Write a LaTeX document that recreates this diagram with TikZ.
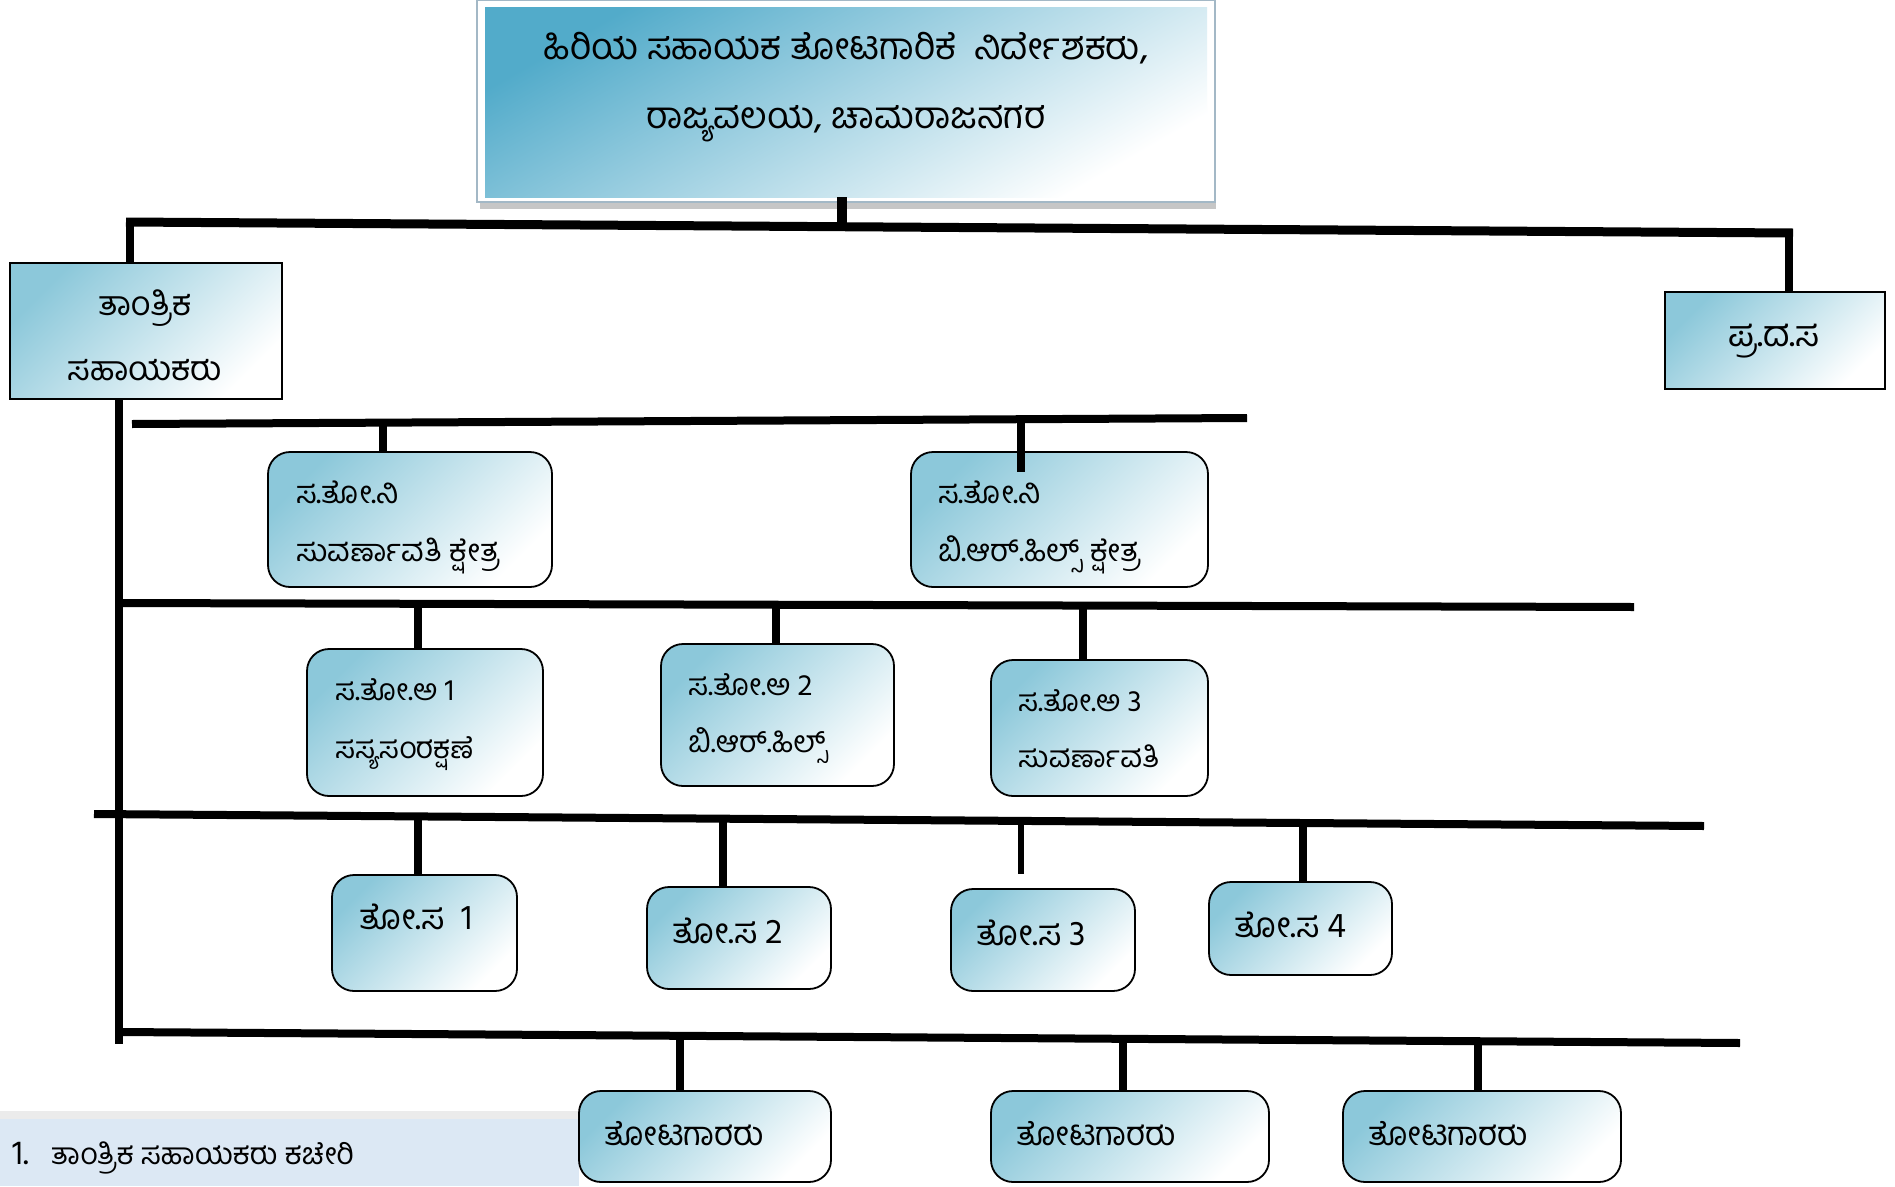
\documentclass[tikz,border=0pt]{standalone}
\usepackage{fontspec}
\newfontfamily\kn[Script=Kannada]{Hind Mysuru}
\definecolor{boxc}{HTML}{8CC8DA}
\definecolor{topc}{HTML}{52ABCA}
\definecolor{frame}{HTML}{A3B8C6}
\definecolor{stripc}{HTML}{DCE8F4}
\definecolor{bandc}{HTML}{EBEBEB}
\newcommand{\ksize}[1]{\kn\fontsize{#1}{#1}\selectfont}
\begin{document}
\begin{tikzpicture}[x=1pt,y=-1pt,
  bus/.style={line width=8pt},
  sqbox/.style={draw=black, line width=1.8pt, top color=boxc, bottom color=white, shading angle=45, inner sep=0pt},
  rbox/.style={sqbox, rounded corners=22pt},
  kt/.style={inner sep=0pt, anchor=base west},
  kc/.style={inner sep=0pt, anchor=base}
]
\clip (0,0) rectangle (1895,1186);
\fill[white] (0,0) rectangle (1895,1186);

% bottom-left strip
\fill[bandc] (0,1111) rectangle (579,1120);
\fill[stripc] (0,1119) rectangle (579,1186);
\node[kt, font=\ksize{30}] (note) at (12,1164) {{\fontsize{34}{34}\selectfont 1.}\hspace{22pt}ತಾಂತ್ರಿಕ ಸಹಾಯಕರು ಕಚೇರಿ};

% top box
\fill[gray!45] (480,200) rectangle (1216,209);
\node[draw=frame, line width=2pt, fill=white, minimum width=738, minimum height=202, inner sep=0pt] (topframe) at (846,101) {};
\node[minimum width=722, minimum height=190, inner sep=0pt, top color=topc, bottom color=white, shading angle=30] (top) at (846,102) {};
\node[kc, font=\ksize{37}] (topt1) at (846,59) {ಹಿರಿಯ ಸಹಾಯಕ ತೋಟಗಾರಿಕೆ\ \ ನಿರ್ದೇಶಕರು,};
\node[kc, font=\ksize{37}] (topt2) at (846,128) {ರಾಜ್ಯವಲಯ, ಚಾಮರಾಜನಗರ};

% level 1
\node[sqbox, minimum width=272, minimum height=136] (tech) at (146,331) {};
\node[kc, font=\ksize{34}] (techt1) at (145,315) {ತಾಂತ್ರಿಕ};
\node[kc, font=\ksize{34}] (techt2) at (145,380) {ಸಹಾಯಕರು};
\node[sqbox, minimum width=220, minimum height=97] (pds) at (1775,340.5) {};
\node[kc, font=\ksize{36}] (pdst) at (1774,346) {ಪ್ರ.ದ.ಸ};

% level 2
\node[rbox, minimum width=284, minimum height=135] (sub1) at (410,519.5) {};
\node[kt, font=\ksize{31}] (sub1t1) at (296,503) {ಸ.ತೋ.ನಿ};
\node[kt, font=\ksize{31}] (sub1t2) at (296,561) {ಸುವರ್ಣಾವತಿ ಕ್ಷೇತ್ರ};
\node[rbox, minimum width=297, minimum height=135] (sub2) at (1059.5,519.5) {};
\node[kt, font=\ksize{31}] (sub2t1) at (938,503) {ಸ.ತೋ.ನಿ};
\node[kt, font=\ksize{31}] (sub2t2) at (938,561) {ಬಿ.ಆರ್.ಹಿಲ್ಸ್ ಕ್ಷೇತ್ರ};

% level 3
\node[rbox, minimum width=236, minimum height=147] (a1) at (425,722.5) {};
\node[kt, font=\ksize{30}] (a1t1) at (335,700) {ಸ.ತೋ.ಅ 1};
\node[kt, font=\ksize{30}] (a1t2) at (335,758) {ಸಸ್ಯಸಂರಕ್ಷಣೆ};
\node[rbox, minimum width=233, minimum height=142] (a2) at (777.5,715) {};
\node[kt, font=\ksize{30}] (a2t1) at (688,695) {ಸ.ತೋ.ಅ 2};
\node[kt, font=\ksize{30}] (a2t2) at (688,752) {ಬಿ.ಆರ್.ಹಿಲ್ಸ್};
\node[rbox, minimum width=217, minimum height=136] (a3) at (1099.5,728) {};
\node[kt, font=\ksize{30}] (a3t1) at (1018,711) {ಸ.ತೋ.ಅ 3};
\node[kt, font=\ksize{30}] (a3t2) at (1018,767) {ಸುವರ್ಣಾವತಿ};

% level 4
\node[rbox, minimum width=185, minimum height=116] (t1) at (424.5,933) {};
\node[kt, font=\ksize{35}] (t1t) at (359,929) {ತೋ.ಸ\ \ 1};
\node[rbox, minimum width=184, minimum height=102] (t2) at (739,938) {};
\node[kt, font=\ksize{35}] (t2t) at (672,943) {ತೋ.ಸ 2};
\node[rbox, minimum width=184, minimum height=102] (t3) at (1043,940) {};
\node[kt, font=\ksize{35}] (t3t) at (976,945) {ತೋ.ಸ 3};
\node[rbox, minimum width=183, minimum height=93] (t4) at (1300.5,928.5) {};
\node[kt, font=\ksize{35}] (t4t) at (1234,937) {ತೋ.ಸ 4};

% level 5
\node[rbox, minimum width=252, minimum height=91] (g1) at (705,1136.5) {};
\node[kt, font=\ksize{33}] (g1t) at (604,1145) {ತೋಟಗಾರರು};
\node[rbox, minimum width=278, minimum height=91] (g2) at (1130,1136.5) {};
\node[kt, font=\ksize{33}] (g2t) at (1016,1145) {ತೋಟಗಾರರು};
\node[rbox, minimum width=278, minimum height=91] (g3) at (1482,1136.5) {};
\node[kt, font=\ksize{33}] (g3t) at (1368,1145) {ತೋಟಗಾರರು};

% buses
\coordinate (b1a) at (126,222); \coordinate (b1b) at (1793,233);
\coordinate (b2a) at (132,424); \coordinate (b2b) at (1247,418);
\coordinate (b3a) at (119,603); \coordinate (b3b) at (1634,607);
\coordinate (b4a) at (94,814);  \coordinate (b4b) at (1704,826);
\coordinate (b5a) at (119,1032); \coordinate (b5b) at (1740,1043);
\draw[line width=9pt] (b1a) -- (b1b);
\draw[bus] (b2a) -- (b2b);
\draw[bus] (b3a) -- (b3b);
\draw[bus] (b4a) -- (b4b);
\draw[bus] (b5a) -- (b5b);

% stubs, level 0/1
\coordinate (s0) at (842,230);
\draw[line width=10pt] (s0 |- top.south) -- (s0);
\coordinate (s11) at (130,220);
\draw[bus] (s11) -- (s11 |- tech.north);
\coordinate (s12) at (1789,229);
\draw[bus] (s12) -- (s12 |- pds.north);
% left spine
\coordinate (sp) at (119,1044);
\draw[bus] (sp |- tech.south) -- (sp);
% level 2 stubs
\coordinate (s21) at (383,422);
\draw[bus] (s21) -- (s21 |- sub1.north);
\coordinate (s22) at (1021,419);
\coordinate (s22e) at (1021,472);
\draw[bus] (s22) -- (s22e);
% level 3 stubs
\coordinate (s31) at (418,605);
\draw[bus] (s31) -- (s31 |- a1.north);
\coordinate (s32) at (776,605);
\draw[bus] (s32) -- (s32 |- a2.north);
\coordinate (s33) at (1083,606);
\draw[bus] (s33) -- (s33 |- a3.north);
% level 4 stubs
\coordinate (s41) at (418,818);
\draw[bus] (s41) -- (s41 |- t1.north);
\coordinate (s42) at (723,820);
\draw[bus] (s42) -- (s42 |- t2.north);
\coordinate (s43) at (1021,822);
\coordinate (s43e) at (1021,874);
\draw[line width=6pt] (s43) -- (s43e);
\coordinate (s44) at (1303,823);
\draw[bus] (s44) -- (s44 |- t4.north);
% level 5 stubs
\coordinate (s51) at (680,1038);
\draw[bus] (s51) -- (s51 |- g1.north);
\coordinate (s52) at (1123,1041);
\draw[bus] (s52) -- (s52 |- g2.north);
\coordinate (s53) at (1478,1042);
\draw[bus] (s53) -- (s53 |- g3.north);
\end{tikzpicture}
\end{document}
